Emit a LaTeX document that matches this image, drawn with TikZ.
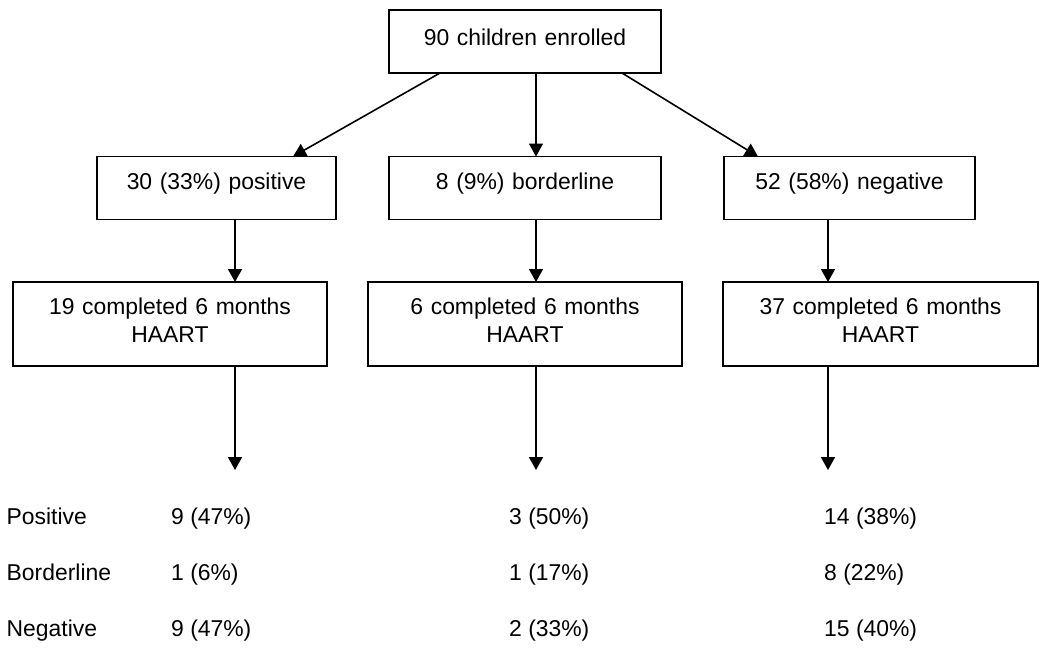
\documentclass[tikz,border=0pt]{standalone}
\usepackage{fontspec}
\setmainfont{Liberation Sans}
\usetikzlibrary{arrows.meta}
\begin{document}
\begin{tikzpicture}[x=1pt,y=-1pt,
  box/.style={draw, line width=1.6pt, inner sep=0pt, outer sep=0pt, align=center,
    anchor=north west, font=\fontsize{22.9}{28}\selectfont},
  arr/.style={-{Triangle[width=14pt,length=13pt]}, line width=1.6pt},
  tbl/.style={inner sep=0pt, anchor=base west, font=\fontsize{22.9}{28}\selectfont}]
\useasboundingbox (0,0) rectangle (1050,649);

% boxes
\node[box, text width=272pt, text height=35pt, text depth=28pt] (top) at (389,10) {90 children enrolled\hspace*{4pt}};

\node[box, text width=239pt, text height=32.5pt, text depth=30.5pt] (b1) at (97,156.5) {30 (33\%) positive\hspace*{12pt}};
\node[box, text width=272pt, text height=32.5pt, text depth=30.5pt] (b2) at (389,156.5) {8 (9\%) borderline\hspace*{12pt}};
\node[box, text width=251pt, text height=32.5pt, text depth=30.5pt] (b3) at (724,156.5) {52 (58\%) negative\hspace*{17pt}};

\node[box, text width=314pt, text height=32pt, text depth=52pt] (c1) at (13,282) {19 completed 6 months\\HAART};
\node[box, text width=314pt, text height=32pt, text depth=52pt] (c2) at (368,282) {6 completed 6 months\\HAART};
\node[box, text width=315pt, text height=32pt, text depth=52pt] (c3) at (723,282) {37 completed 6 months\\HAART};

% connector x positions
\coordinate (s1) at (440,0);
\coordinate (e1) at (293,0);
\coordinate (m) at (536,0);
\coordinate (s3) at (622,0);
\coordinate (e3) at (758,0);
\coordinate (x1) at (235,0);
\coordinate (x2) at (536,0);
\coordinate (x3) at (828,0);
\coordinate (t1) at (235,470);
\coordinate (t2) at (536,470);
\coordinate (t3) at (828,470);

\draw[arr] (top.south -| s1) -- (b1.north -| e1);
\draw[arr] (top.south -| m) -- (b2.north -| m);
\draw[arr] (top.south -| s3) -- (b3.north -| e3);

\draw[arr] (b1.south -| x1) -- (c1.north -| x1);
\draw[arr] (b2.south -| x2) -- (c2.north -| x2);
\draw[arr] (b3.south -| x3) -- (c3.north -| x3);

\draw[arr] (c1.south -| x1) -- (t1);
\draw[arr] (c2.south -| x2) -- (t2);
\draw[arr] (c3.south -| x3) -- (t3);

% table
\node[tbl] (pl) at (6.5,524) {Positive};
\node[tbl] (p1) at (171,524) {9 (47\%)};
\node[tbl] (p2) at (509,524) {3 (50\%)};
\node[tbl] (p3) at (824,524) {14 (38\%)};

\node[tbl] (bl) at (6.5,580) {Borderline};
\node[tbl] (bo1) at (171,580) {1 (6\%)};
\node[tbl] (bo2) at (509,580) {1 (17\%)};
\node[tbl] (bo3) at (824,580) {8 (22\%)};

\node[tbl] (nl) at (6.5,636) {Negative};
\node[tbl] (n1) at (171,636) {9 (47\%)};
\node[tbl] (n2) at (509,636) {2 (33\%)};
\node[tbl] (n3) at (824,636) {15 (40\%)};
\end{tikzpicture}
\end{document}
